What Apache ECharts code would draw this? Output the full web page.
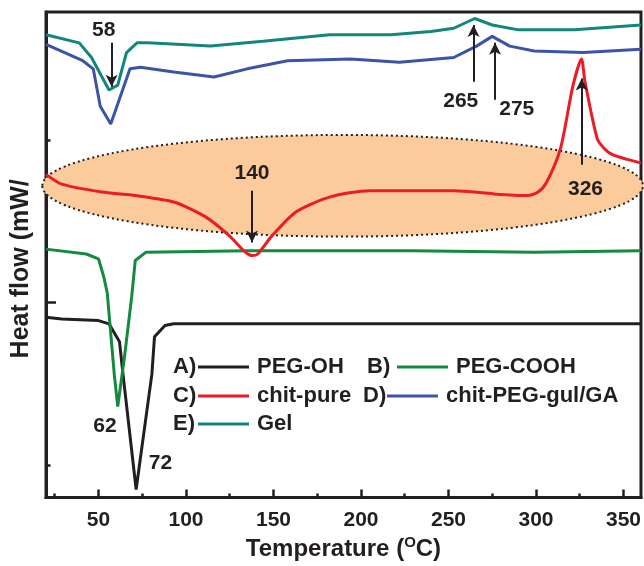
<!DOCTYPE html>
<html>
<head>
<meta charset="utf-8">
<title>DSC curves</title>
<script src="https://cdn.jsdelivr.net/npm/echarts@6/dist/echarts.min.js"></script>
<style>
  html, body { margin: 0; padding: 0; background: #fff; }
  #chart { width: 644px; height: 566px; }
</style>
</head>
<body>
<div id="chart"></div>
<script>
// [temperature (C), heat flow (arb. units, axis ticks at 0 / 1 / 2)]
const pegOH = [[20, 0.91], [29, 0.90], [50, 0.89], [56, 0.87], [62, 0.76], [64, 0.56], [71.5, -0.15],
  [80.5, 0.56], [82, 0.79], [88, 0.86], [93, 0.87], [229, 0.87], [360, 0.87]];
const pegCOOH = [[20, 1.33], [43, 1.30], [50, 1.27], [53, 1.16], [55, 1.06], [59, 0.56], [61, 0.36],
  [65, 0.68], [69, 1.04], [71, 1.26], [77, 1.31], [135, 1.32], [229, 1.32], [299, 1.31], [360, 1.32]];
const chitPure = [[20, 1.79], [29, 1.73], [53, 1.68], [71, 1.66], [93, 1.62], [111, 1.53], [125, 1.41],
  [134, 1.31], [138, 1.29], [141, 1.30], [149, 1.41], [163, 1.56], [182, 1.65], [205, 1.69], [253, 1.69],
  [276, 1.67], [295, 1.66], [301, 1.68], [306, 1.74], [314, 1.95], [321, 2.33], [326, 2.50], [328, 2.36],
  [335, 2.01], [339, 1.95], [344, 1.91], [360, 1.86]];
const chitPegGul = [[20, 2.59], [41, 2.49], [47, 2.44], [51, 2.21], [57, 2.10], [68, 2.44], [74, 2.45],
  [93, 2.42], [116, 2.39], [135, 2.44], [158, 2.49], [194, 2.50], [222, 2.48], [253, 2.51], [266, 2.58],
  [275, 2.64], [285, 2.58], [299, 2.55], [327, 2.54], [360, 2.56]];
const gel = [[20, 2.65], [39, 2.60], [46, 2.51], [56, 2.31], [61, 2.34], [66, 2.54], [72, 2.60], [78, 2.60],
  [114, 2.58], [144, 2.61], [182, 2.65], [217, 2.65], [240, 2.67], [253, 2.69], [265, 2.75], [275, 2.71],
  [290, 2.68], [322, 2.68], [360, 2.71]];

const xTicks = [50, 100, 150, 200, 250, 300, 350];
const xMinorTicks = [25, 75, 125, 175, 225, 275, 325];
const yTicks = [1];
const yMinorTicks = [0, 2];

// peak labels [temperature, heat flow, text]
const peakLabels = [[53, 2.675, '58'], [257, 2.24, '265'], [289, 2.19, '275'], [137.7, 1.80, '140'],
  [328.3, 1.70, '326'], [53.7, 0.24, '62'], [85.4, 0.01, '72']];
// arrows [temperature, tail, head]
const peakArrows = [[57.5, 2.60, 2.33], [264.3, 2.36, 2.71], [276.6, 2.25, 2.60], [137.7, 1.69, 1.37],
  [326.1, 1.85, 2.38]];
// shaded region [centre T, centre value, half width (C), half height]
const region = [[189.5, 1.72, 171.6, 0.313]];

const ink = "#231f20";
const font = '"Liberation Sans", Arial, sans-serif';

function lineSeries(name, data, color, smooth) {
  return {
    name: name,
    type: "line",
    data: data,
    symbol: "none",
    smooth: smooth || false,
    z: 3,
    lineStyle: { color: color, width: 3 },
    itemStyle: { color: color },
  };
}

// one small legend per entry, the letter in front is plain text
const entries = [
  { name: "PEG-OH", tag: "A)", tagX: 173, iconX: 198, y: 368 },
  { name: "PEG-COOH", tag: "B)", tagX: 367, iconX: 397, y: 368 },
  { name: "chit-pure", tag: "C)", tagX: 173, iconX: 198, y: 397 },
  { name: "chit-PEG-gul/GA", tag: "D)", tagX: 363, iconX: 387, y: 397 },
  { name: "Gel", tag: "E)", tagX: 173, iconX: 198, y: 425 },
];

const legends = entries.map((e) => ({
  data: [e.name],
  left: e.iconX,
  top: e.y - 12,
  padding: 0,
  icon: "rect",
  itemWidth: 51,
  itemHeight: 3,
  selectedMode: false,
  textStyle: { color: ink, fontSize: 22, fontWeight: "bold", fontFamily: font, padding: [0, 0, 0, 3] },
}));

const tags = entries.map((e) => ({
  type: "text",
  left: e.tagX,
  top: e.y - 12,
  style: { text: e.tag, fill: ink, font: "bold 22px " + font },
}));

const chart = echarts.init(document.getElementById("chart"));

chart.setOption({
  animation: false,
  backgroundColor: "#fff",
  grid: {
    left: 46,
    right: 3,
    top: 12,
    bottom: 61,
    show: true,
    borderColor: ink,
    borderWidth: 3,
  },
  legend: legends,
  graphic: tags,
  xAxis: [
    {
      type: "value",
      min: 20,
      max: 360,
      name: "Temperature ({sup|O}C)",
      nameLocation: "middle",
      nameGap: 35,
      nameTextStyle: {
        color: ink,
        fontSize: 24,
        fontWeight: "bold",
        fontFamily: font,
        rich: {
          sup: { fontSize: 15, fontWeight: "bold", fontFamily: font, color: ink, padding: [0, 0, 12, 0] },
        },
      },
      axisLine: { onZero: false, lineStyle: { color: ink, width: 3 } },
      axisTick: { inside: true, length: 8, customValues: xTicks, lineStyle: { color: ink, width: 2.5 } },
      axisLabel: {
        customValues: xTicks,
        margin: 12,
        color: ink,
        fontSize: 21,
        fontWeight: "bold",
        fontFamily: font,
      },
      splitLine: { show: false },
    },
    {
      type: "value",
      min: 20,
      max: 360,
      position: "bottom",
      axisLine: { show: false, onZero: false },
      axisTick: { inside: true, length: 4, customValues: xMinorTicks, lineStyle: { color: ink, width: 2.5 } },
      axisLabel: { show: false },
      splitLine: { show: false },
    },
  ],
  yAxis: [
    {
      type: "value",
      min: -0.2,
      max: 2.79,
      name: "Heat flow (mW/",
      nameLocation: "middle",
      nameGap: 12,
      nameTextStyle: { color: ink, fontSize: 25, fontWeight: "bold", fontFamily: font, padding: [0, 28, 0, 0] },
      axisLine: { onZero: false, lineStyle: { color: ink, width: 3 } },
      axisTick: { inside: true, length: 10, customValues: yTicks, lineStyle: { color: ink, width: 2.5 } },
      axisLabel: { show: false },
      splitLine: { show: false },
    },
    {
      type: "value",
      min: -0.2,
      max: 2.79,
      position: "left",
      axisLine: { show: false, onZero: false },
      axisTick: { inside: true, length: 4.5, customValues: yMinorTicks, lineStyle: { color: ink, width: 2.5 } },
      axisLabel: { show: false },
      splitLine: { show: false },
    },
  ],
  series: [
    {
      type: "custom",
      name: "region",
      z: 1,
      silent: true,
      data: region,
      renderItem: function (params, api) {
        const c = api.coord([api.value(0), api.value(1)]);
        const s = api.size([api.value(2), api.value(3)]);
        return {
          type: "ellipse",
          shape: { cx: c[0], cy: c[1], rx: s[0], ry: s[1] },
          style: { fill: "#fbcb9b", stroke: ink, lineWidth: 2, lineDash: [2, 3] },
        };
      },
    },
    lineSeries("PEG-OH", pegOH, ink),
    lineSeries("PEG-COOH", pegCOOH, "#138a3d"),
    lineSeries("chit-pure", chitPure, "#ed1c24", 0.25),
    lineSeries("chit-PEG-gul/GA", chitPegGul, "#3b54a5"),
    lineSeries("Gel", gel, "#13867c"),
    {
      type: "line",
      name: "notes",
      data: [],
      z: 4,
      markLine: {
        silent: true,
        symbol: ["none", "arrow"],
        symbolSize: [9, 12],
        label: { show: false },
        lineStyle: { color: ink, width: 2, type: "solid" },
        data: peakArrows.map((a) => [{ coord: [a[0], a[1]] }, { coord: [a[0], a[2]] }]),
      },
      markPoint: {
        silent: true,
        symbol: "circle",
        symbolSize: 1,
        itemStyle: { color: "rgba(0,0,0,0)" },
        label: {
          show: true,
          position: "inside",
          formatter: "{c}",
          color: ink,
          fontSize: 21,
          fontWeight: "bold",
          fontFamily: font,
        },
        data: peakLabels.map((p) => ({ coord: [p[0], p[1]], value: p[2] })),
      },
    },
  ],
});
</script>
</body>
</html>
